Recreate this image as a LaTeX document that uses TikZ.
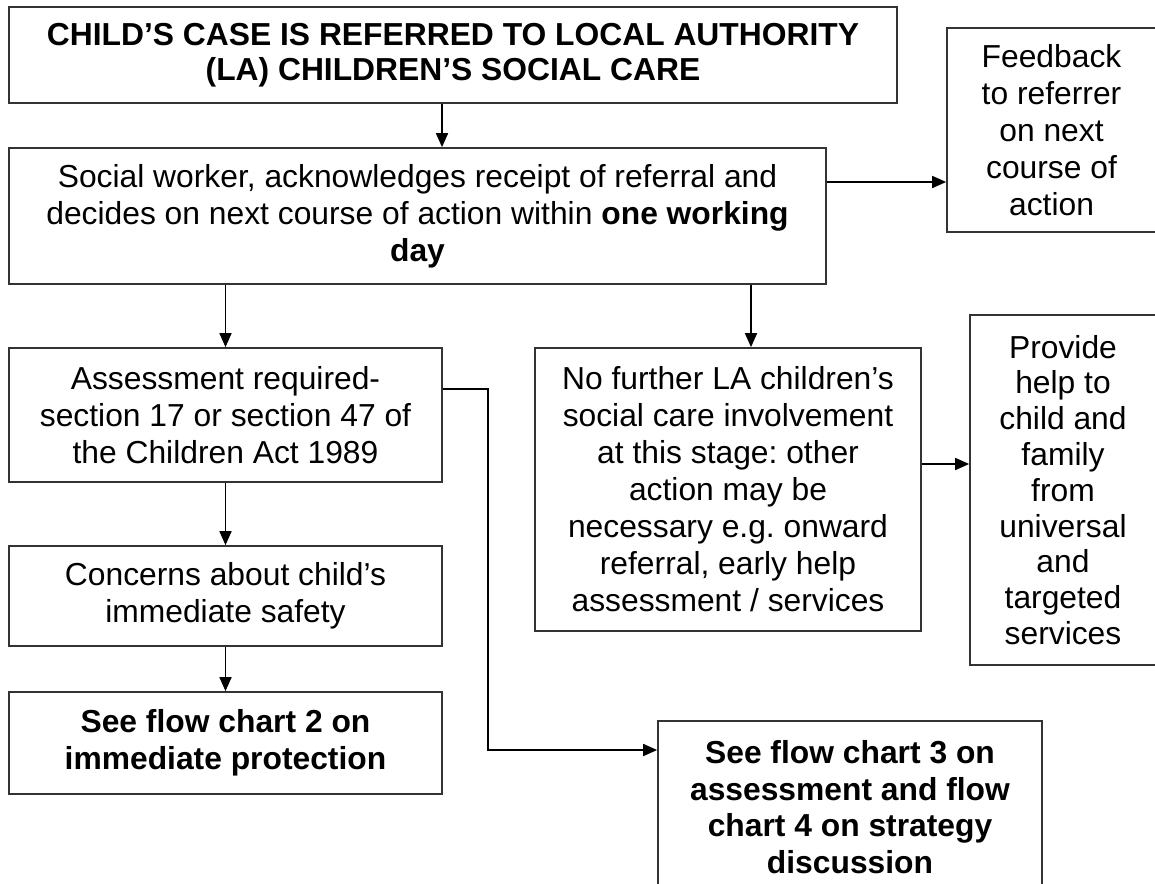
\documentclass[tikz,border=0pt]{standalone}
\usepackage{fontspec}
\setmainfont{Liberation Sans}
\usetikzlibrary{arrows.meta}
\frenchspacing
\begin{document}
\begin{tikzpicture}[x=1pt,y=-1pt,
  box/.style={draw=black!80,line width=1.7pt,align=center,inner sep=2pt,
    font=\fontsize{31.8}{37}\selectfont,text=black},
  arr/.style={draw=black,line width=1.7pt,-{Triangle[length=14pt,width=12pt]}}]
\useasboundingbox[fill=white] (0,0) rectangle (1155,883);
\node[box,minimum width=888pt,minimum height=96pt,font=\fontsize{31.8}{35}\selectfont\bfseries] (title) at (453,55)
  {CHILD’S CASE IS REFERRED TO LOCAL AUTHORITY\\(LA) CHILDREN’S SOCIAL CARE};
\node[box,minimum width=817pt,minimum height=136pt] (social) at (417.5,216)
  {Social worker, acknowledges receipt of referral and\\decides on next course of action within \textbf{one working}\\\textbf{day}};
\node[box,minimum width=209pt,minimum height=204pt] (feed) at (1051.5,130)
  {Feedback\\to referrer\\on next\\course of\\action};
\node[box,minimum width=433pt,minimum height=134pt] (assess) at (225.5,415)
  {Assessment required-\\section 17 or section 47 of\\the Children Act 1989};
\node[box,minimum width=386pt,minimum height=283pt] (nofur) at (728,489.5)
  {No further LA children’s\\social care involvement\\at this stage: other\\action may be\\necessary e.g. onward\\referral, early help\\assessment / services};
\node[box,minimum width=186pt,minimum height=350pt,font=\fontsize{31.8}{35.8}\selectfont] (prov) at (1063,490)
  {Provide\\help to\\child and\\family\\from\\universal\\and\\targeted\\services};
\node[box,minimum width=433pt,minimum height=100pt] (concern) at (225.5,596)
  {Concerns about child’s\\immediate safety};
\node[box,minimum width=433pt,minimum height=102pt,font=\fontsize{31.8}{37}\selectfont\bfseries] (fc2) at (225.5,743)
  {See flow chart 2 on\\immediate protection};
\node[box,minimum width=384pt,minimum height=172pt,font=\fontsize{31.8}{36.5}\selectfont\bfseries] (fc3) at (850,807)
  {See flow chart 3 on\\assessment and flow\\chart 4 on strategy\\discussion};
\coordinate (a1) at (442,0);
\coordinate (a2) at (0,182);
\coordinate (a3) at (751,0);
\coordinate (a4) at (488,389);
\coordinate (a5) at (488,750);
\coordinate (a6) at (0,464);
\draw[arr] (title.south -| a1) -- (social.north -| a1);
\draw[arr] (social.east |- a2) -- (feed.west |- a2);
\draw[arr] (social.south -| assess.north) -- (assess.north);
\draw[arr] (social.south -| a3) -- (nofur.north -| a3);
\draw[arr] (assess.south) -- (concern.north);
\draw[arr] (concern.south) -- (fc2.north);
\draw[arr] (assess.east |- a4) -- (a4) -- (a5) -- (fc3.west |- a5);
\draw[arr] (nofur.east |- a6) -- (prov.west |- a6);
\end{tikzpicture}
\end{document}
